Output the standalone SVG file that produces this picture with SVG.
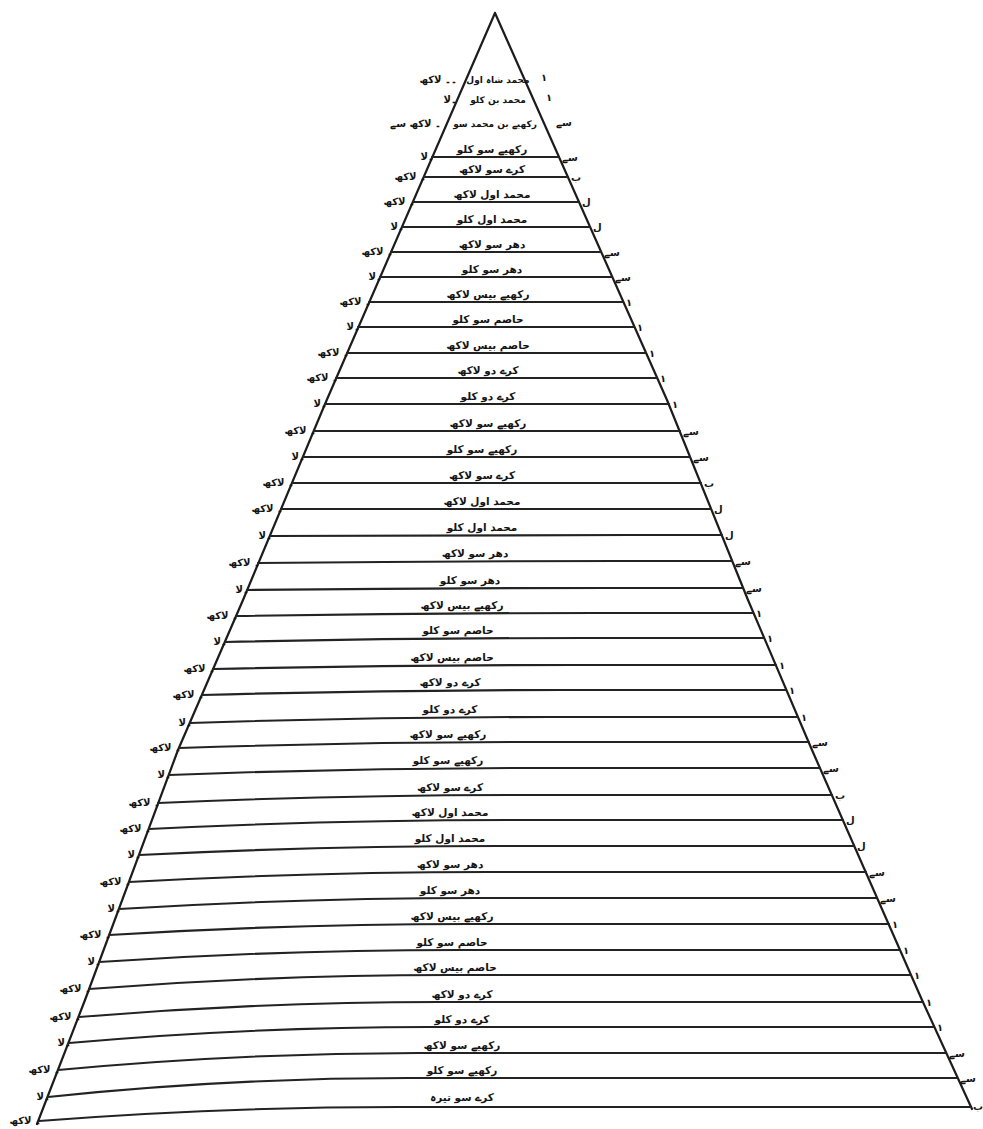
<svg xmlns="http://www.w3.org/2000/svg" width="983" height="1129" viewBox="0 0 983 1129">
<style>
.e{fill:none;stroke:#1c1c1c;stroke-width:2.2;stroke-linejoin:round;stroke-linecap:round}
.l{fill:none;stroke:#232323;stroke-width:2.1;stroke-linecap:round}
text{font-family:"DejaVu Sans","Noto Sans",sans-serif;font-size:10.5px;font-weight:bold;fill:#141414}
.m{text-anchor:middle}
.s{font-size:9px}
.lt{text-anchor:end;font-size:10px}
.rt{text-anchor:start;font-size:10px}
</style>
<rect x="0" y="0" width="983" height="1129" fill="#ffffff"/>
<g id="pyramid">
<polyline class="e" points="495,13 325,404 243,600 178,750 85,1000 37,1124"/>
<polyline class="e" points="495,13 667,400 748,600 812,750 922,1000 972,1109"/>
</g>
<g id="connectors">
<path class="l" d="M432,157 L559,157"/>
<path class="l" d="M424,177 L568,177"/>
<path class="l" d="M413,202 L579,202"/>
<path class="l" d="M402,227 L590,227"/>
<path class="l" d="M391,252 L601,252"/>
<path class="l" d="M380,277 L612,277"/>
<path class="l" d="M369,302 L623,302"/>
<path class="l" d="M358,327 L634,327"/>
<path class="l" d="M347,353 L646,353"/>
<path class="l" d="M336,378 L657,378"/>
<path class="l" d="M325,404 L669,404"/>
<path class="l" d="M314,431 L680,431"/>
<path class="l" d="M303,457 L690,457"/>
<path class="l" d="M292,483 L701,483"/>
<path class="l" d="M281,509 L711,509"/>
<path class="l" d="M270,536 Q450,535 630,535 L722,535"/>
<path class="l" d="M258,563 Q438,561 618,561 L732,561"/>
<path class="l" d="M247,590 Q427,588 607,588 L743,588"/>
<path class="l" d="M236,616 Q416,613 596,613 L753,613"/>
<path class="l" d="M225,642 Q405,638 585,638 L764,638"/>
<path class="l" d="M213,669 Q393,665 573,665 L776,665"/>
<path class="l" d="M202,695 Q382,690 562,690 L786,690"/>
<path class="l" d="M190,723 Q370,717 550,717 L798,717"/>
<path class="l" d="M179,748 Q359,742 539,742 L809,742"/>
<path class="l" d="M169,775 Q349,768 529,768 L820,768"/>
<path class="l" d="M158,803 Q338,795 518,795 L832,795"/>
<path class="l" d="M149,829 Q329,820 509,820 L843,820"/>
<path class="l" d="M139,855 Q319,846 499,846 L854,846"/>
<path class="l" d="M129,882 Q309,872 489,872 L866,872"/>
<path class="l" d="M119,909 Q299,898 479,898 L877,898"/>
<path class="l" d="M109,935 Q289,924 469,924 L889,924"/>
<path class="l" d="M99,962 Q279,950 459,950 L900,950"/>
<path class="l" d="M89,989 Q269,975 449,975 L911,975"/>
<path class="l" d="M79,1017 Q259,1002 439,1002 L923,1002"/>
<path class="l" d="M69,1043 Q249,1027 429,1027 L934,1027"/>
<path class="l" d="M58,1070 Q238,1053 418,1053 L946,1053"/>
<path class="l" d="M48,1097 Q228,1078 408,1078 L957,1078"/>
<path class="l" d="M39,1121 Q219,1107 399,1107 L970,1107"/>
</g>
<g id="row-1"><text class="m s" x="498" y="83">محمد شاہ اول</text><text class="lt s" x="457" y="83">۔۔ لاکھ</text><text class="rt" x="541" y="81">۱</text></g>
<g id="row-2"><text class="m s" x="498" y="103">محمد بن کلو</text><text class="lt s" x="457" y="103">۔لا</text><text class="rt" x="546" y="101">۱</text></g>
<g id="row-3"><text class="m s" x="495" y="127">رکھیے بن محمد سو</text><text class="lt s" x="441" y="127">۔ لاکھ سے</text><text class="rt" x="556" y="126">سے</text></g>
<g id="row-4"><text class="m" x="492" y="153">رکھیے سو کلو</text><text class="lt" x="434" y="160">۔لا</text><text class="rt" x="562" y="161">سے</text></g>
<g id="row-5"><text class="m" x="492" y="173">کرے سو لاکھ</text><text class="lt" x="426" y="180">۔ لاکھ</text><text class="rt" x="571" y="181">ب</text></g>
<g id="row-6"><text class="m" x="492" y="198">محمد اول لاکھ</text><text class="lt" x="415" y="205">۔ لاکھ</text><text class="rt" x="582" y="206">ل</text></g>
<g id="row-7"><text class="m" x="492" y="223">محمد اول کلو</text><text class="lt" x="404" y="230">۔لا</text><text class="rt" x="593" y="231">ل</text></g>
<g id="row-8"><text class="m" x="492" y="248">دھر سو لاکھ</text><text class="lt" x="393" y="255">۔ لاکھ</text><text class="rt" x="604" y="256">سے</text></g>
<g id="row-9"><text class="m" x="492" y="273">دھر سو کلو</text><text class="lt" x="382" y="280">۔لا</text><text class="rt" x="615" y="281">سے</text></g>
<g id="row-10"><text class="m" x="488" y="298">رکھیے بیس لاکھ</text><text class="lt" x="371" y="305">۔ لاکھ</text><text class="rt" x="626" y="306">۱</text></g>
<g id="row-11"><text class="m" x="488" y="323">حاصم سو کلو</text><text class="lt" x="360" y="330">۔لا</text><text class="rt" x="637" y="331">۱</text></g>
<g id="row-12"><text class="m" x="488" y="349">حاصم بیس لاکھ</text><text class="lt" x="349" y="356">۔ لاکھ</text><text class="rt" x="649" y="357">۱</text></g>
<g id="row-13"><text class="m" x="488" y="374">کرے دو لاکھ</text><text class="lt" x="338" y="381">۔ لاکھ</text><text class="rt" x="660" y="382">۱</text></g>
<g id="row-14"><text class="m" x="488" y="400">کرے دو کلو</text><text class="lt" x="327" y="407">۔لا</text><text class="rt" x="672" y="408">۱</text></g>
<g id="row-15"><text class="m" x="488" y="427">رکھیے سو لاکھ</text><text class="lt" x="316" y="434">۔ لاکھ</text><text class="rt" x="683" y="435">سے</text></g>
<g id="row-16"><text class="m" x="482" y="453">رکھیے سو کلو</text><text class="lt" x="305" y="460">۔لا</text><text class="rt" x="693" y="461">سے</text></g>
<g id="row-17"><text class="m" x="482" y="479">کرے سو لاکھ</text><text class="lt" x="294" y="486">۔ لاکھ</text><text class="rt" x="704" y="487">ب</text></g>
<g id="row-18"><text class="m" x="482" y="505">محمد اول لاکھ</text><text class="lt" x="283" y="512">۔ لاکھ</text><text class="rt" x="714" y="513">ل</text></g>
<g id="row-19"><text class="m" x="482" y="531">محمد اول کلو</text><text class="lt" x="272" y="539">۔لا</text><text class="rt" x="725" y="539">ل</text></g>
<g id="row-20"><text class="m" x="475" y="557">دھر سو لاکھ</text><text class="lt" x="260" y="566">۔ لاکھ</text><text class="rt" x="735" y="565">سے</text></g>
<g id="row-21"><text class="m" x="470" y="584">دھر سو کلو</text><text class="lt" x="249" y="593">۔لا</text><text class="rt" x="746" y="592">سے</text></g>
<g id="row-22"><text class="m" x="462" y="609">رکھیے بیس لاکھ</text><text class="lt" x="238" y="619">۔ لاکھ</text><text class="rt" x="756" y="617">۱</text></g>
<g id="row-23"><text class="m" x="458" y="634">حاصم سو کلو</text><text class="lt" x="227" y="645">۔لا</text><text class="rt" x="767" y="642">۱</text></g>
<g id="row-24"><text class="m" x="452" y="661">حاصم بیس لاکھ</text><text class="lt" x="215" y="672">۔ لاکھ</text><text class="rt" x="779" y="669">۱</text></g>
<g id="row-25"><text class="m" x="450" y="686">کرے دو لاکھ</text><text class="lt" x="204" y="698">۔ لاکھ</text><text class="rt" x="789" y="694">۱</text></g>
<g id="row-26"><text class="m" x="450" y="713">کرے دو کلو</text><text class="lt" x="192" y="726">۔لا</text><text class="rt" x="801" y="721">۱</text></g>
<g id="row-27"><text class="m" x="448" y="738">رکھیے سو لاکھ</text><text class="lt" x="181" y="751">۔ لاکھ</text><text class="rt" x="812" y="746">سے</text></g>
<g id="row-28"><text class="m" x="448" y="764">رکھیے سو کلو</text><text class="lt" x="171" y="778">۔لا</text><text class="rt" x="823" y="772">سے</text></g>
<g id="row-29"><text class="m" x="450" y="791">کرے سو لاکھ</text><text class="lt" x="160" y="806">۔ لاکھ</text><text class="rt" x="835" y="799">ب</text></g>
<g id="row-30"><text class="m" x="450" y="816">محمد اول لاکھ</text><text class="lt" x="151" y="832">۔ لاکھ</text><text class="rt" x="846" y="824">ل</text></g>
<g id="row-31"><text class="m" x="450" y="842">محمد اول کلو</text><text class="lt" x="141" y="858">۔لا</text><text class="rt" x="857" y="850">ل</text></g>
<g id="row-32"><text class="m" x="450" y="868">دھر سو لاکھ</text><text class="lt" x="131" y="885">۔ لاکھ</text><text class="rt" x="869" y="876">سے</text></g>
<g id="row-33"><text class="m" x="450" y="894">دھر سو کلو</text><text class="lt" x="121" y="912">۔لا</text><text class="rt" x="880" y="902">سے</text></g>
<g id="row-34"><text class="m" x="452" y="920">رکھیے بیس لاکھ</text><text class="lt" x="111" y="938">۔ لاکھ</text><text class="rt" x="892" y="928">۱</text></g>
<g id="row-35"><text class="m" x="452" y="946">حاصم سو کلو</text><text class="lt" x="101" y="965">۔لا</text><text class="rt" x="903" y="954">۱</text></g>
<g id="row-36"><text class="m" x="455" y="971">حاصم بیس لاکھ</text><text class="lt" x="91" y="992">۔ لاکھ</text><text class="rt" x="914" y="979">۱</text></g>
<g id="row-37"><text class="m" x="462" y="998">کرے دو لاکھ</text><text class="lt" x="81" y="1020">۔ لاکھ</text><text class="rt" x="926" y="1006">۱</text></g>
<g id="row-38"><text class="m" x="462" y="1023">کرے دو کلو</text><text class="lt" x="71" y="1046">۔لا</text><text class="rt" x="937" y="1031">۱</text></g>
<g id="row-39"><text class="m" x="462" y="1049">رکھیے سو لاکھ</text><text class="lt" x="60" y="1073">۔ لاکھ</text><text class="rt" x="949" y="1057">سے</text></g>
<g id="row-40"><text class="m" x="462" y="1074">رکھیے سو کلو</text><text class="lt" x="50" y="1100">۔لا</text><text class="rt" x="960" y="1082">سے</text></g>
<g id="row-41"><text class="m" x="462" y="1101">کرے سو تیرہ</text><text class="lt" x="41" y="1124">۔ لاکھ</text><text class="rt" x="973" y="1110">ب</text></g>
</svg>
